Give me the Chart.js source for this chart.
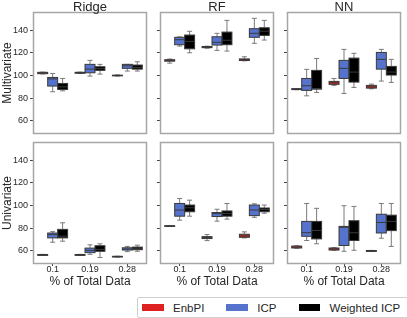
<!DOCTYPE html>
<html>
<head>
<meta charset="utf-8">
<script src="https://cdn.jsdelivr.net/npm/chart.js@4.4.1/dist/chart.umd.min.js"></script>
<style>
  body { margin: 0; background: #fff; }
  #fig { position: relative; width: 407px; height: 318px; overflow: hidden;
         font-family: "Liberation Sans", Arial, sans-serif; color: #262626; }
  #fig canvas { position: absolute; }
  .txt { position: absolute; white-space: nowrap; line-height: 1; transform: translate(-50%, -50%); }
  .ylab { transform: translate(-50%, -50%) rotate(-90deg); }
  #legend { position: absolute; left: 137px; top: 297px; width: 266px; height: 19px;
            border: 1px solid #d0d0d0; border-radius: 2px; display: flex; align-items: center;
            padding-left: 4px; box-sizing: content-box; font-size: 11.5px; }
  .item { display: flex; align-items: center; margin-right: 22px; flex-shrink: 0; white-space: nowrap; }
  .patch { width: 21.5px; height: 7px; margin-right: 9.5px; flex-shrink: 0; }
</style>
</head>
<body>
<div id="fig"><div id="legend"></div></div>
<script>
// setup
const percents = ["0.1", "0.19", "0.28"];
const methods = ["EnbPI", "ICP", "Weighted ICP"];
const methodColors = ["#df2020", "#5573cd", "#000000"];
const models = ["Ridge", "RF", "NN"];
const settings = ["Multivariate", "Univariate"];
const yTicks = [60, 80, 100, 120, 140];

// box stats for each % of data: [whisker low, q1, median, q3, whisker high]
const multiRidgeEnbPI = [[101.4, 101.6, 102.2, 102.8, 103.0], [101.8, 102.0, 102.4, 102.8, 103.0], [99.5, 99.7, 100.0, 100.3, 100.5]];
const multiRidgeICP = [[85.7, 90.7, 97.0, 98.3, 101.8], [99.5, 102.4, 105.6, 109.8, 113.3], [103.9, 106.3, 108.5, 109.8, 109.8]];
const multiRidgeWICP = [[86.5, 87.7, 90.0, 93.0, 97.4], [101.2, 104.5, 106.0, 107.7, 109.8], [103.9, 105.6, 107.0, 109.2, 112.1]];

const multiRFEnbPI = [[110.9, 112.6, 113.3, 113.9, 114.5], [124.0, 124.5, 125.0, 125.5, 125.8], [112.9, 113.2, 113.9, 114.6, 116.5]];
const multiRFICP = [[125.9, 127.1, 131.5, 133.6, 134.0], [122.1, 126.8, 129.2, 134.1, 137.1], [128.3, 133.6, 137.1, 141.2, 150.3]];
const multiRFWICP = [[120.0, 123.5, 130.0, 135.6, 138.9], [121.5, 127.1, 131.0, 138.2, 148.5], [131.2, 135.3, 139.0, 142.0, 148.5]];

const multiNNEnbPI = [[87.5, 87.6, 88.0, 88.4, 88.5], [91.3, 92.2, 93.6, 94.8, 97.4], [88.3, 88.9, 90.0, 91.3, 92.4]];
const multiNNICP = [[82.1, 86.9, 91.0, 97.4, 105.4], [84.2, 97.4, 106.3, 113.3, 123.0], [95.1, 105.6, 114.2, 120.3, 123.0]];
const multiNNWICP = [[85.1, 88.0, 88.5, 104.5, 115.0], [89.5, 94.2, 103.0, 115.3, 119.5], [93.9, 100.4, 103.0, 108.0, 114.2]];

const uniRidgeEnbPI = [[56.0, 56.1, 56.5, 56.9, 57.0], [56.0, 56.1, 56.5, 56.9, 57.0], [54.6, 54.7, 55.0, 55.3, 55.4]];
const uniRidgeICP = [[67.7, 71.5, 74.4, 75.8, 77.0], [57.0, 58.5, 60.5, 62.5, 65.4], [59.4, 60.8, 61.7, 62.8, 64.0]];
const uniRidgeWICP = [[68.6, 71.5, 73.0, 79.0, 84.8], [54.2, 59.7, 61.4, 64.6, 66.3], [59.7, 61.1, 62.0, 63.4, 65.1]];

const uniRFEnbPI = [[81.5, 81.6, 81.9, 82.2, 82.3], [69.1, 70.9, 71.8, 72.6, 74.4], [71.5, 72.0, 73.2, 74.7, 76.8]];
const uniRFICP = [[87.1, 90.6, 96.0, 101.8, 106.2], [86.2, 90.3, 92.9, 93.8, 96.7], [89.6, 91.1, 96.0, 100.4, 101.5]];
const uniRFWICP = [[90.6, 94.5, 98.0, 100.4, 104.7], [88.0, 90.6, 93.0, 95.2, 101.8], [93.2, 94.5, 96.5, 97.8, 100.4]];

const uniNNEnbPI = [[62.4, 62.6, 63.4, 64.3, 64.6], [60.6, 60.8, 61.7, 62.6, 62.9], [59.5, 59.6, 60.0, 60.4, 60.5]];
const uniNNICP = [[69.2, 72.9, 76.1, 86.0, 101.8], [59.7, 64.8, 80.8, 81.6, 99.8], [71.2, 75.8, 85.1, 92.3, 101.8]];
const uniNNWICP = [[66.3, 70.6, 78.0, 86.0, 97.5], [60.6, 69.2, 76.0, 86.6, 99.2], [64.0, 77.9, 86.0, 91.5, 101.8]];

const panels = [
  [[multiRidgeEnbPI, multiRidgeICP, multiRidgeWICP], [multiRFEnbPI, multiRFICP, multiRFWICP], [multiNNEnbPI, multiNNICP, multiNNWICP]],
  [[uniRidgeEnbPI, uniRidgeICP, uniRidgeWICP], [uniRFEnbPI, uniRFICP, uniRFWICP], [uniNNEnbPI, uniNNICP, uniNNWICP]],
];

// layout
const colX = [34, 161, 288];
const rowY = [13, 143];
const PW = 112, PH = 120, PAD_T = 8, PAD_R = 4, YW = 34;
const FONT = "'Liberation Sans', Arial, sans-serif";
const fig = document.getElementById("fig");

const framePlugin = {
  id: "frame",
  afterDraw(chart) {
    const { ctx, chartArea: a } = chart;
    ctx.save();
    ctx.strokeStyle = "#a6a6a6";
    ctx.lineWidth = 1.5;
    ctx.strokeRect(a.left - 0.5, a.top - 0.5, a.right - a.left + 1, a.bottom - a.top + 1);
    ctx.restore();
  },
};

// whiskers, caps, medians and box edges drawn on top of the floating bars
const boxPlugin = {
  id: "boxes",
  afterDatasetsDraw(chart) {
    const ctx = chart.ctx;
    const y = chart.scales.y;
    chart.data.datasets.forEach((ds, di) => {
      chart.getDatasetMeta(di).data.forEach((bar, i) => {
        const [lo, q1, med, q3, hi] = ds.stats[i];
        const half = bar.width / 2, cap = bar.width / 4;
        const x = bar.x;
        ctx.save();
        ctx.lineWidth = 1;
        ctx.strokeStyle = "#7a7a7a";
        ctx.beginPath();
        ctx.moveTo(x, y.getPixelForValue(q3));
        ctx.lineTo(x, y.getPixelForValue(hi));
        ctx.moveTo(x - cap, y.getPixelForValue(hi));
        ctx.lineTo(x + cap, y.getPixelForValue(hi));
        ctx.moveTo(x, y.getPixelForValue(q1));
        ctx.lineTo(x, y.getPixelForValue(lo));
        ctx.moveTo(x - cap, y.getPixelForValue(lo));
        ctx.lineTo(x + cap, y.getPixelForValue(lo));
        ctx.stroke();
        ctx.strokeStyle = "#3a3a3a";
        const top = y.getPixelForValue(q3), bot = y.getPixelForValue(q1);
        ctx.strokeRect(x - half, top, bar.width, bot - top);
        ctx.beginPath();
        ctx.moveTo(x - half, y.getPixelForValue(med));
        ctx.lineTo(x + half, y.getPixelForValue(med));
        ctx.stroke();
        ctx.restore();
      });
    });
  },
};

function addText(str, x, y, size, cls) {
  const d = document.createElement("div");
  d.className = "txt" + (cls ? " " + cls : "");
  d.style.left = x + "px";
  d.style.top = y + "px";
  d.style.fontSize = size + "px";
  d.textContent = str;
  fig.appendChild(d);
}

function makePanel(r, c) {
  const bottom = r === 1;
  const xH = bottom ? 18 : 8;
  const cv = document.createElement("canvas");
  cv.width = YW + PW + PAD_R;
  cv.height = PAD_T + PH + xH;
  const left = colX[c] - YW, top = rowY[r] - PAD_T;
  cv.style.left = left + "px";
  cv.style.top = top + "px";
  fig.appendChild(cv);
  const stats = panels[r][c];

  const chart = new Chart(cv, {
    type: "bar",
    data: {
      labels: percents,
      datasets: methods.map((m, i) => ({
        label: m,
        data: stats[i].map((s) => [s[1], s[3]]),
        stats: stats[i],
        backgroundColor: methodColors[i],
        borderWidth: 0,
        categoryPercentage: 0.8,
        barPercentage: 1,
      })),
    },
    options: {
      responsive: false,
      animation: false,
      events: [],
      layout: { padding: { top: PAD_T, right: PAD_R, left: 0, bottom: 0 } },
      plugins: { legend: { display: false }, tooltip: { enabled: false } },
      scales: {
        x: {
          offset: true,
          grid: { display: bottom, drawOnChartArea: false, offset: false, tickLength: 3, color: "#444" },
          border: { display: false },
          ticks: { display: false },
          afterFit(s) { s.height = xH; },
        },
        y: {
          min: 49.4,
          max: 155,
          afterBuildTicks(s) { s.ticks = yTicks.map((v) => ({ value: v })); },
          grid: { drawOnChartArea: false, tickLength: 4, color: "#444" },
          border: { display: false },
          ticks: { display: c === 0, color: "#262626", font: { family: FONT, size: 9 }, padding: 2 },
          afterFit(s) { s.width = YW; },
        },
      },
    },
    plugins: [framePlugin, boxPlugin],
  });

  // x tick labels placed at the category scale's tick positions
  if (bottom) {
    const xs = chart.scales.x;
    percents.forEach((p, i) => {
      addText(p, left + xs.getPixelForTick(i), top + chart.chartArea.bottom + 5.5, 9);
    });
  }
}

// render init block
for (let r = 0; r < 2; r++) for (let c = 0; c < 3; c++) makePanel(r, c);

models.forEach((m, c) => addText(m, colX[c] + PW / 2, 6, 13));
settings.forEach((s, r) => addText(s, 6.5, rowY[r] + PH / 2, 12, "ylab"));
colX.forEach((x) => addText("% of Total Data", x + PW / 2, 280.5, 12));

const legend = document.getElementById("legend");
methods.forEach((m, i) => {
  const it = document.createElement("div");
  it.className = "item";
  it.innerHTML = '<div class="patch" style="background:' + methodColors[i] + '"></div><span></span>';
  it.querySelector("span").textContent = m;
  legend.appendChild(it);
});
</script>
</body>
</html>
